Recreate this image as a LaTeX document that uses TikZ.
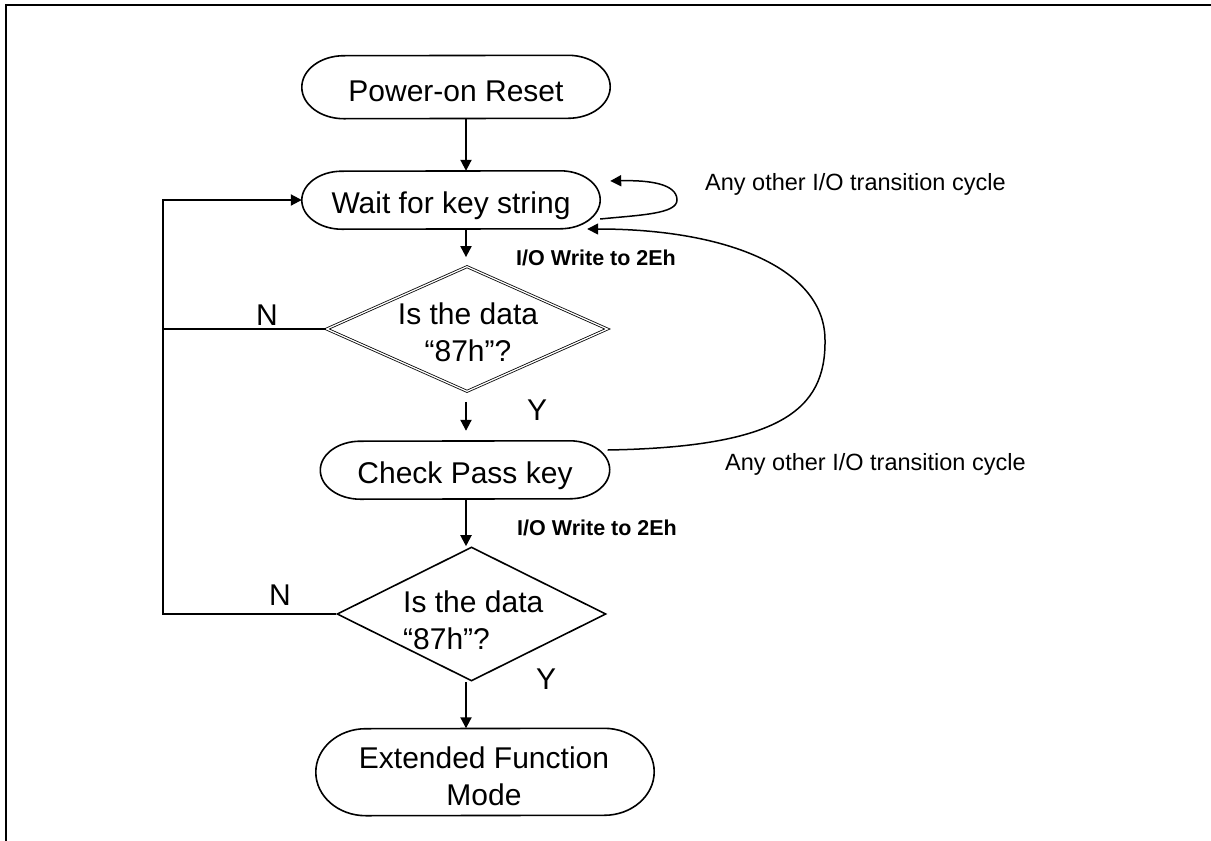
\documentclass[tikz,border=0pt]{standalone}
\usepackage{fontspec}
\setmainfont{Liberation Sans}
\usetikzlibrary{arrows.meta,calc,shapes.geometric}
\newcommand\stadiumline[3]{\draw[shp] ($(#1.north east)+(-#2,0)$) arc[start angle=90,end angle=-90,x radius=#2pt,y radius=#3pt] -- ($(#1.south west)+(#2,0)$) arc[start angle=270,end angle=90,x radius=#2pt,y radius=#3pt] -- cycle;}
\begin{document}
\begin{tikzpicture}[x=1pt,y=-1pt,
  shp/.style={line width=1.6pt},
  conn/.style={line width=2pt},
  arr/.style={line width=2pt,-{Triangle[length=11pt,width=11pt]}},
  carr/.style={line width=1.5pt,-{Triangle[length=11pt,width=11pt]}},
  lbl/.style={font=\fontsize{30}{37}\selectfont, inner sep=0pt},
  small/.style={font=\fontsize{23.5}{28}\selectfont, inner sep=0pt},
  wlbl/.style={font=\bfseries\fontsize{21.5}{26}\selectfont, inner sep=0pt},
  term/.style={rectangle, inner sep=0pt},
  dia/.style={diamond, inner sep=0pt, draw, line width=1.6pt}]
\useasboundingbox (0,0) rectangle (1211,841);
% frame
\draw[line width=2pt] (6,841) -- (6,5) -- (1211,5);
% terminals
\node[term, minimum width=308pt, minimum height=63pt] (por) at (456,87) {};
\stadiumline{por}{42}{31.5}
\node[lbl, anchor=base] (port) at (456,101) {Power-on Reset};
\node[term, minimum width=298pt, minimum height=58pt] (w) at (451,200) {};
\stadiumline{w}{40}{29}
\node[lbl, anchor=base] (wt) at (451,213) {Wait for key string};
\node[term, minimum width=289pt, minimum height=58pt] (cp) at (465,470) {};
\stadiumline{cp}{40}{29}
\node[lbl, anchor=base] (cpt) at (465,483) {Check Pass key};
\node[term, minimum width=338pt, minimum height=87pt] (ext) at (485,772) {};
\stadiumline{ext}{50}{43.5}
\node[lbl, align=center] (extt) at (484,776.5) {Extended Function\\Mode};
% decisions
\node[dia, minimum width=281pt, minimum height=125pt, line width=0.8pt, double, double distance=1.3pt] (d1) at (467,329) {};
\node[lbl, align=center] (d1t) at (468,332.5) {Is the data\\“87h”?};
\node[dia, minimum width=269pt, minimum height=134pt] (d2) at (471.5,614) {};
\node[lbl, align=left, anchor=west] (d2t) at (403,620.5) {Is the data\\“87h”?};
% main arrows
\coordinate (ax) at (466,0);
\coordinate (lx) at (163,0);
\draw[arr] (por.south -| ax) -- (w.north -| ax);
\draw[arr] (w.south -| ax) -- ($(d1.north -| ax)+(0,-9)$);
\draw[arr] ($(d1.south -| ax)+(0,10)$) -- ($(cp.north -| ax)+(0,-10)$);
\draw[arr] (cp.south -| ax) -- (d2.north -| ax);
\draw[arr] (d2.south -| ax) -- (ext.north -| ax);
% N branches
\draw[arr] (d2.west) -- (d2.west -| lx) |- (w.west);
\draw[conn] (d1.west) -- (d1.west -| lx);
% loops
\draw[carr] ($(w.east)+(0,19)$) .. controls (640,215) and (677,214) .. (677,200) .. controls (677,184) and (650,180) .. ($(w.east)+(10,-19)$);
\draw[carr] ($(cp.east)+(-2,-20)$) .. controls (780,447) and (826,410) .. (825,340) .. controls (825,270) and (730,229) .. ($(w.east)+(-13,29)$);
% labels
\node[lbl] (n1) at (267,315) {N};
\node[lbl] (n2) at (280,595) {N};
\node[lbl] (y1) at (537,410) {Y};
\node[lbl] (y2) at (546,679) {Y};
\node[wlbl, anchor=base west] (io1) at (516,265) {I/O Write to 2Eh};
\node[wlbl, anchor=base west] (io2) at (517,535) {I/O Write to 2Eh};
\node[small, anchor=base west] (any1) at (705,190) {Any other I/O transition cycle};
\node[small, anchor=base west] (any2) at (725,470) {Any other I/O transition cycle};
\end{tikzpicture}
\end{document}
